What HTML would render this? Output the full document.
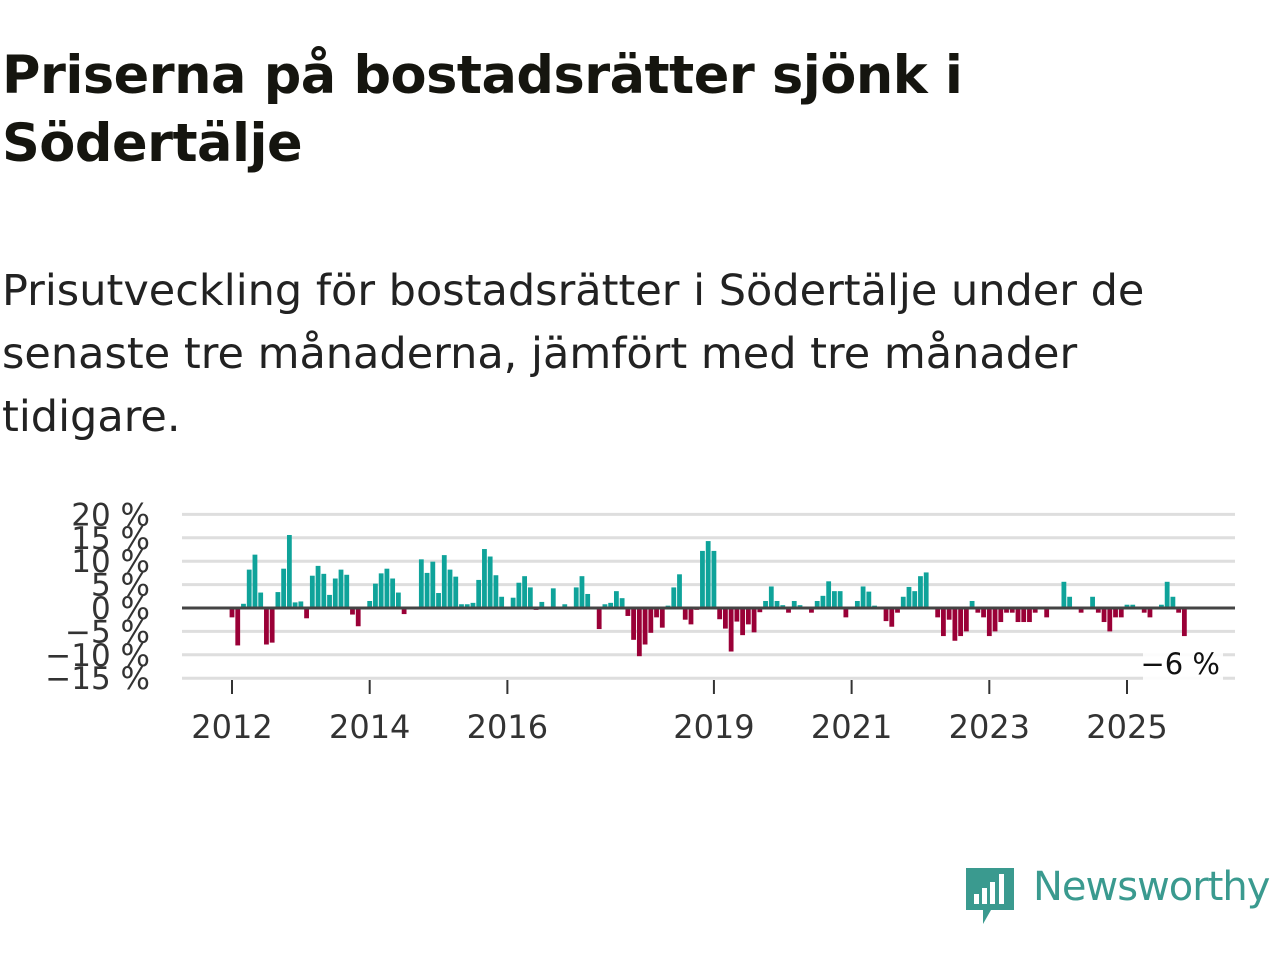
<!DOCTYPE html>
<html><head><meta charset="utf-8">
<style>
body{margin:0;width:1280px;height:960px;background:#fff;overflow:hidden;font-family:"DejaVu Sans","Liberation Sans",sans-serif;color:#111}
h1{position:absolute;left:2px;top:42px;margin:0;font-size:52.5px;line-height:68px;font-weight:bold;letter-spacing:-0.5px;color:#15150f}
.sub{position:absolute;left:2px;top:260px;margin:0;font-size:43px;line-height:63px;color:#222;font-weight:normal}
svg{position:absolute;left:0;top:0}
</style></head><body>
<h1>Priserna på bostadsrätter sjönk i<br>Södertälje</h1>
<p class="sub">Prisutveckling för bostadsrätter i Södertälje under de<br>senaste tre månaderna, jämfört med tre månader<br>tidigare.</p>
<svg id="chart" width="1280" height="960"></svg>
<script>
const values=[-2,-8,0.9,8.2,11.4,3.3,-7.8,-7.4,3.4,8.4,15.6,1.2,1.4,-2.2,6.9,9,7.3,2.8,6.3,8.2,7.1,-1.4,-3.9,0,1.5,5.2,7.4,8.4,6.3,3.3,-1.3,0,0,10.4,7.5,9.9,3.2,11.3,8.2,6.7,0.8,0.8,1.1,6,12.6,11,7,2.4,0,2.2,5.4,6.8,4.4,-0.4,
1.3,0.3,4.2,0.3,0.8,0,4.4,6.8,3,0,-4.5,0.8,1.1,3.6,2.1,-1.7,-6.8,-10.3,-7.8,-5.3,-2,-4.2,0.5,4.4,7.2,-2.5,-3.5,-0.4,12.2,14.3,12.2,-2.4,-4.4,-9.3,-2.9,-5.8,-3.5,-5.2,-0.9,1.5,4.6,1.5,0.6,-1,1.5,0.6,0,-1,1.5,2.6,5.7,3.6,3.6,-2,0,1.5,4.6,3.5,0.5,0,-2.8,
-4,-1,2.4,4.5,3.6,6.8,7.6,0,-2,-6,-2.5,-7,-6,-5,1.5,-1,-2,-6,-5,-3,-1,-1,-3,-3,-3,-1,0,-2,0,0,5.6,2.4,0,-1,0,2.4,-1,-3,-5,-2,-2,0.7,0.7,0,-1,-2,0,0.7,5.6,2.4,-1,-6];
const startYear=2012;
const yTicks=[20,15,10,5,0,-5,-10,-15];
const xTickYears=[2012,2014,2016,2019,2021,2023,2025];
const lastLabel="−6 %";
const NS="http://www.w3.org/2000/svg";
const svg=document.getElementById('chart');
const monthW=(1127-232)/(13*12);
function x(monthIndex){return 232+monthIndex*monthW;}
function y(v){return 608-v*4.68;}
function mk(t,a,p){const e=document.createElementNS(NS,t);for(const k in a)e.setAttribute(k,a[k]);(p||svg).appendChild(e);return e;}
yTicks.forEach(t=>{
  if(t!==0){const g=mk('line',{x1:182,x2:1235,y1:y(t),y2:y(t),stroke:'#dedede','stroke-width':3});
  
  }
  const l=mk('text',{x:150,y:y(t)+11,'text-anchor':'end','font-size':31,fill:'#333','font-family':'DejaVu Sans, Liberation Sans, sans-serif'});
  l.textContent=(t<0?'−'+(-t):t)+' %';
  
  
});
values.forEach((v,i)=>{
  const cx=x(i);
  const r=mk('rect',{x:cx-2.4,width:4.8,y:v>=0?y(v):y(0),height:Math.abs(y(v)-y(0)),fill:v>=0?'#0fa39a':'#9a0037'});
  
  
});
const z=mk('line',{x1:182,x2:1235,y1:y(0),y2:y(0),stroke:'#444','stroke-width':3});


xTickYears.forEach(yr=>{
  const xx=x((yr-startYear)*12);
  const t=mk('line',{x1:xx,x2:xx,y1:680,y2:694,stroke:'#333','stroke-width':2});
  
  
  const l=mk('text',{x:xx,y:738,'text-anchor':'middle','font-size':32,fill:'#333','font-family':'DejaVu Sans, Liberation Sans, sans-serif'});
  l.textContent=yr;
  
  
});
const bg=mk('rect',{x:1143,y:645,width:80,height:36,fill:'#fff',opacity:0.9});


const lv=mk('text',{x:1220,y:674,'text-anchor':'end','font-size':29,fill:'#111','font-family':'DejaVu Sans, Liberation Sans, sans-serif'});
lv.textContent=lastLabel;


</script>
<svg width="60" height="64" style="left:963px;top:864px">
<path d="M3 4h48v42H28l-8 14v-14H3z" fill="#3a9a8f"/>
<rect x="11" y="30" width="5" height="10" fill="#fff"/><rect x="19" y="24" width="5" height="16" fill="#fff"/><rect x="27" y="18" width="5" height="22" fill="#fff"/><rect x="36" y="10" width="5" height="30" fill="#fff"/>
</svg>
<div style="position:absolute;left:1033px;top:864px;font-size:40px;color:#3a9a8f;font-family:'DejaVu Sans','Liberation Sans',sans-serif;letter-spacing:-1px">Newsworthy</div>
</body></html>
